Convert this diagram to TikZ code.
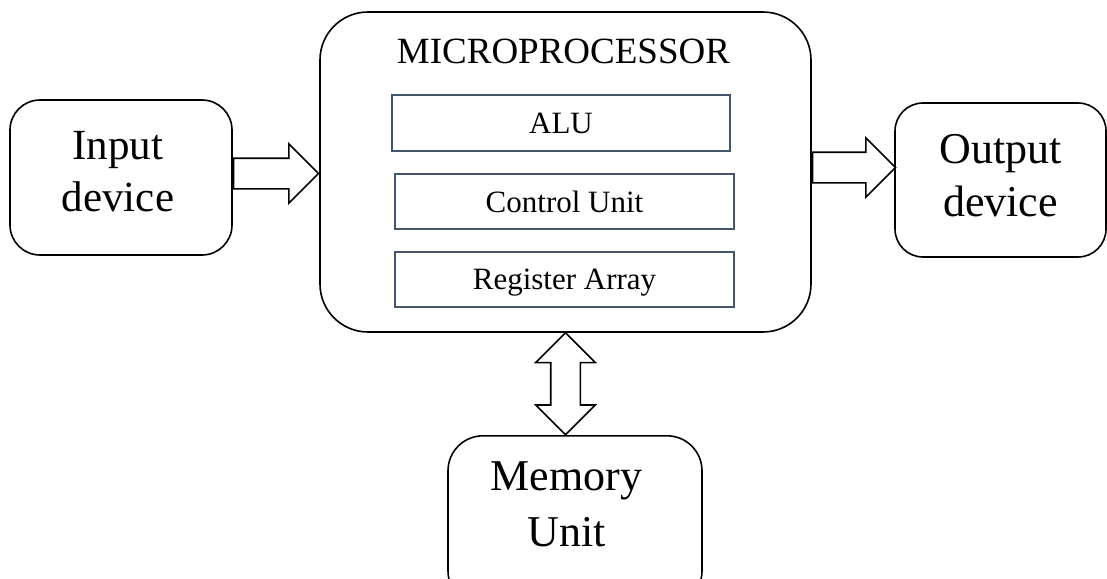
\documentclass[tikz,border=0pt]{standalone}
\usepackage{fontspec}
\setmainfont{Liberation Serif}
\usetikzlibrary{shapes.arrows,positioning}
\definecolor{unitcol}{HTML}{44546A}

\begin{document}
\begin{tikzpicture}[x=1pt,y=-1pt,
	blk/.style={draw,line width=1.6pt,rounded corners=#1,inner sep=0pt},
	unit/.style={draw=unitcol,line width=1.6pt,minimum width=339pt,minimum height=55pt,
		inner sep=0pt,text depth=0pt,font=\fontsize{31}{36}\selectfont},
	bigtxt/.style={align=center,inner sep=0pt,font=\fontsize{44}{53}\selectfont},
	fatarrow/.style={single arrow,draw,line width=1.6pt,inner sep=14.5pt,
		single arrow head extend=14.5pt,minimum height=85pt,anchor=tail},
	fatarrows/.style={double arrow,draw,line width=1.6pt,inner sep=14pt,
		double arrow head extend=15pt,minimum height=102pt}]
\useasboundingbox (0,0) rectangle (1107,578);

% the boxes
\node[blk=30pt,minimum width=222pt,minimum height=155pt] (inp) at (121,177.5) {};
\node[blk=48pt,minimum width=491pt,minimum height=320pt] (mp) at (565.5,172) {};
\node[blk=28pt,minimum width=211pt,minimum height=154pt] (out) at (1000.5,180) {};
\node[blk=35pt,minimum width=254pt,minimum height=170pt,anchor=north] (mem) at (575,435) {};

% inside the microprocessor
\node[font=\fontsize{37}{44}\selectfont,inner sep=0pt] (mptxt) at ([xshift=-2pt,yshift=-40pt]mp.north) {MICROPROCESSOR};
\node[unit,minimum width=338pt,minimum height=56pt] (alu) at (561,123) {ALU};
\node[unit] (cu) at (564.5,201.5) {Control Unit};
\node[unit] (reg) at (564.5,279.5) {Register Array};

% texts
\node[bigtxt,font=\fontsize{43}{52}\selectfont] (inptxt) at ([xshift=-3pt,yshift=6pt]inp.center) {Input\\device};
\node[bigtxt] (outtxt) at ([yshift=4.5pt]out.center) {Output\\device};
\node[bigtxt,font=\fontsize{44}{56}\selectfont] (memtxt) at ([xshift=-8.5pt,yshift=-69.5pt]mem.north) {Memory\\Unit};

% arrows
\node[fatarrow] (a1) at ([yshift=-1.5pt]inp.east |- mp.west) {};
\node[fatarrow,minimum height=83pt] (a2) at ([yshift=4.5pt]mp.east) {};
\node[fatarrows,rotate=90] (a3) at ([yshift=-51pt]mp.south) {};
\end{tikzpicture}
\end{document}
